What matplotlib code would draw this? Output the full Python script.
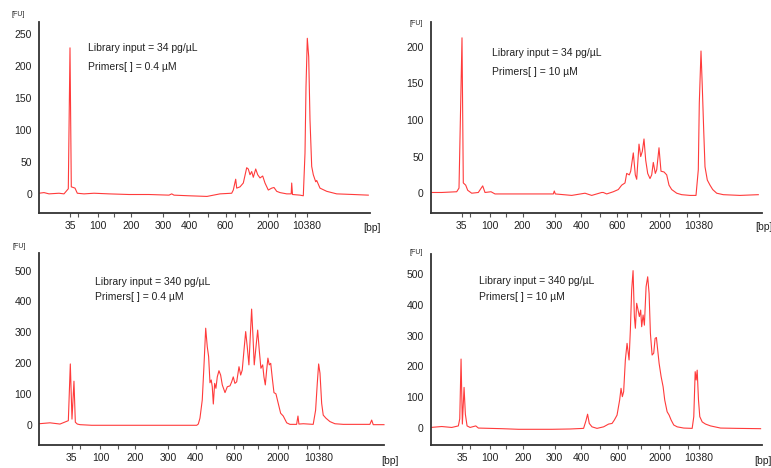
import matplotlib
matplotlib.use("Agg")
import matplotlib.pyplot as plt

plt.rcParams['font.family'] = ['Liberation Sans', 'DejaVu Sans']

# ladder sizes (bp) at their migration positions, only some are labelled
ladder_bp = [35, 50, 100, 150, 200, 300, 400, 500, 600, 700, 1000, 2000, 3000, 7000, 10380]
ladder_pos = [31.2, 39.2, 58.9, 75.5, 91.8, 123.8, 150.2, 169.3, 186.6, 195.8,
              209.9, 229.2, 238.1, 256.5, 267.9]
shown_bp = [35, 100, 200, 300, 400, 600, 2000, 10380]

# 34 pg/uL, 0.4 uM primers
p1_pos = [0, 5, 10, 20, 25, 29.3, 31, 32.3, 34.3, 36, 38.3, 45, 55, 70, 90, 110, 130,
          132.7, 135, 150, 168, 181, 192.7, 194.3, 196.7, 197.7, 201, 204.3, 207.7,
          209.3, 211, 212.7, 214.3, 216.7, 218.7, 221, 223.7, 226, 229.3, 232.7, 235,
          237.7, 241, 247.7, 252.2, 252.7, 253.5, 261, 264.3, 266, 267, 268.3, 269.7,
          271, 272.7, 274.3, 276.7, 277.7, 281, 287.7, 297.7, 314.3, 329.3]
p1_fu = [1, 2, 0, 1, 0, 8, 229, 11, 10, 9, 1, 0, 1, 0, -1, -1, -2,
         0, -2, -3, -4, 0, 1, 6, 23, 9, 11, 17, 41,
         39, 30, 35, 26, 39, 30, 25, 28, 17, 6, 9, 10,
         4, 2, 0, 0, 17, -1, -2, -3, 64, 168, 244, 215,
         116, 43, 30, 19, 21, 9, 4, 0, -1, -2]

# 34 pg/uL, 10 uM primers
p2_pos = [0, 11, 26, 28.3, 31.3, 32.6, 35, 37, 41, 47.6, 52, 54.3, 60.3, 64.3, 87.6,
          122.6, 123.6, 124.6, 141, 154.3, 161, 171, 172.6, 176, 182.6, 187.6, 191,
          194.3, 196, 198.6, 200, 202.6, 204.6, 206, 208.3, 210, 211.6, 213.3, 215,
          217, 219.3, 221, 222.6, 224.6, 226, 228.3, 230.3, 233.3, 236, 238.3, 241,
          246, 251, 259.3, 265.3, 267.6, 268.6, 270.3, 271.6, 273, 274.3, 276.6, 279.3,
          282, 286, 292.6, 309.3, 327.6]
p2_fu = [1, 1, 2, 7, 212, 14, 11, 4, 0, 1, 10, 1, 2, -1, -1,
         -1, 3, -1, -3, 0, -3, 1, 1, -1, 2, 5, 11,
         14, 27, 25, 30, 55, 25, 19, 67, 50, 57, 74, 45,
         27, 20, 25, 42, 27, 32, 62, 30, 29, 25, 11, 5,
         0, -2, -3, -3, 32, 123, 194, 145, 86, 36, 18, 11,
         5, 0, -2, -3, -2]

# 340 pg/uL, 0.4 uM primers
p3_pos = [0, 10.5, 20.1, 28.1, 30.0, 31.6, 33.5, 34.8, 36.7, 39.3, 50.5, 151.1, 152.6,
          154.2, 156.4, 158.0, 159.7, 161.2, 162.5, 163.8, 165.0, 166.0, 167.0, 168.3,
          169.5, 170.8, 172.4, 174.0, 175.6, 178.2, 180.4, 183.0, 184.6, 186.1, 187.7,
          189.4, 191.6, 193.2, 194.7, 196.4, 198.0, 199.5, 201.1, 202.4, 203.7, 205.0,
          206.2, 207.9, 209.5, 211.0, 212.6, 214.3, 215.5, 216.8, 218.1, 219.3, 220.6,
          222.0, 223.5, 225.1, 227.0, 229.2, 231.5, 234.0, 237.3, 240.4, 246.8, 248.1,
          249.0, 253.2, 262.7, 265.0, 266.6, 267.9, 269.2, 270.8, 272.3, 274.9, 278.7,
          283.5, 291.5, 304.3, 317.0, 318.7, 320.2, 330.5]
p3_fu = [3, 6, 2, 13, 197, 18, 141, 8, 2, 0, -2, -2, 2,
         21, 80, 188, 313, 253, 221, 136, 145, 123, 67, 134,
         118, 155, 175, 161, 129, 104, 123, 126, 139, 155, 134,
         139, 188, 161, 177, 242, 302, 253, 194, 286, 375, 286,
         194, 253, 307, 242, 183, 194, 155, 129, 177, 216, 194,
         199, 151, 104, 100, 69, 37, 28, 6, 1, 1, 28,
         2, 3, 1, 47, 134, 197, 167, 69, 31, 21, 10,
         3, 1, 1, 1, 15, 0, 0]

# 340 pg/uL, 10 uM primers
p4_pos = [0, 11, 21, 27.6, 29, 30.3, 31.6, 33.3, 34.6, 36.3, 39.3, 45, 47.6, 71, 87.6,
          121, 139.3, 152.6, 155, 156.6, 158.3, 161, 166, 172.6, 177.6, 181, 183.3, 186,
          188.6, 190, 191.3, 192.6, 194.3, 196, 198, 199.3, 200.6, 202, 203.3, 204.3,
          205.6, 207, 208.3, 209.6, 210.6, 212, 213.3, 215, 216.6, 218, 219.3, 221,
          222.6, 224, 225.3, 226.6, 228, 230, 232, 233.6, 236, 238, 240, 242.6, 246,
          252.6, 261, 262.6, 264, 265, 266, 267.3, 268.6, 271, 274.3, 279.3, 289.3, 306,
          329.3]
p4_fu = [2, 5, 2, 7, 30, 224, 13, 132, 45, 7, 2, 7, 0, -2, -4,
         -4, -3, -1, 24, 45, 15, 4, -1, 4, 13, 15, 26, 42,
         91, 129, 102, 118, 221, 275, 221, 318, 448, 511, 362, 324,
         405, 383, 362, 383, 329, 367, 334, 459, 491, 437, 308, 237,
         243, 291, 294, 253, 210, 167, 134, 91, 53, 42, 26, 10, 4,
         0, -1, 37, 183, 156, 188, 91, 37, 20, 13, 7, 0, -1,
         -2]

notes = [("Library input = 34 pg/\u00b5L", "Primers[ ] = 0.4 \u00b5M"),
         ("Library input = 34 pg/\u00b5L", "Primers[ ] = 10 \u00b5M"),
         ("Library input = 340 pg/\u00b5L", "Primers[ ] = 0.4 \u00b5M"),
         ("Library input = 340 pg/\u00b5L", "Primers[ ] = 10 \u00b5M")]

W, H = 771, 468
fig = plt.figure(figsize=(W / 100, H / 100), dpi=100)

# pixel layout: left, top, right, bottom of each plot box
boxes = [(39, 21.7, 370, 213), (430.7, 21.7, 761.7, 213),
         (39, 253.3, 384.5, 444.7), (430.7, 254, 762.3, 444.7)]
ylims = [(-30, 270), (-27, 234), (-65, 556), (-54, 565)]
yticks = [range(0, 251, 50), range(0, 201, 50), range(0, 501, 100), range(0, 501, 100)]
note_xy = [(88, 48, 66.7), (491.7, 53.3, 71.7), (95, 281.7, 296.7), (479.3, 281.3, 296.7)]
fu_xy = [(12, 15), (409, 23.3), (12.7, 246.7), (409, 253)]
bp_xy = [(363, 227.7), (755, 227), (381, 460.7), (754, 460.7)]

traces = [(p1_pos, p1_fu), (p2_pos, p2_fu), (p3_pos, p3_fu), (p4_pos, p4_fu)]
labels = [str(b) if b in shown_bp else '' for b in ladder_bp]

for i in range(4):
    l, t, r, b = boxes[i]
    ax = fig.add_axes([l / W, 1 - b / H, (r - l) / W, (b - t) / H])
    ax.plot(traces[i][0], traces[i][1], color='#ff3b3b', lw=0.8)
    ax.set_xlim(0, 331)
    ax.set_ylim(*ylims[i])
    ax.set_xticks(ladder_pos)
    ax.set_xticklabels(labels)
    ax.set_yticks(list(yticks[i]))
    for s in ['top', 'right']:
        ax.spines[s].set_visible(False)
    for s in ['left', 'bottom']:
        ax.spines[s].set_linewidth(1.3)
        ax.spines[s].set_color('#333333')
    ax.tick_params(axis='x', length=3, width=0.8, color='#555555', pad=3,
                   labelsize=7.5, labelcolor='#222222')
    ax.tick_params(axis='y', length=0, pad=5, labelsize=7.5, labelcolor='#222222')
    ax.patch.set_alpha(0)

    x, y1, y2 = note_xy[i]
    fig.text(x / W, 1 - y1 / H, notes[i][0], fontsize=7.5, va='center', color='#222222')
    fig.text(x / W, 1 - y2 / H, notes[i][1], fontsize=7.5, va='center', color='#222222')
    fig.text(fu_xy[i][0] / W, 1 - fu_xy[i][1] / H, '[FU]', fontsize=5, va='center',
             color='#222222')
    fig.text(bp_xy[i][0] / W, 1 - bp_xy[i][1] / H, '[bp]', fontsize=7.5, va='center',
             color='#222222')

fig.savefig('out.png', dpi=100)
